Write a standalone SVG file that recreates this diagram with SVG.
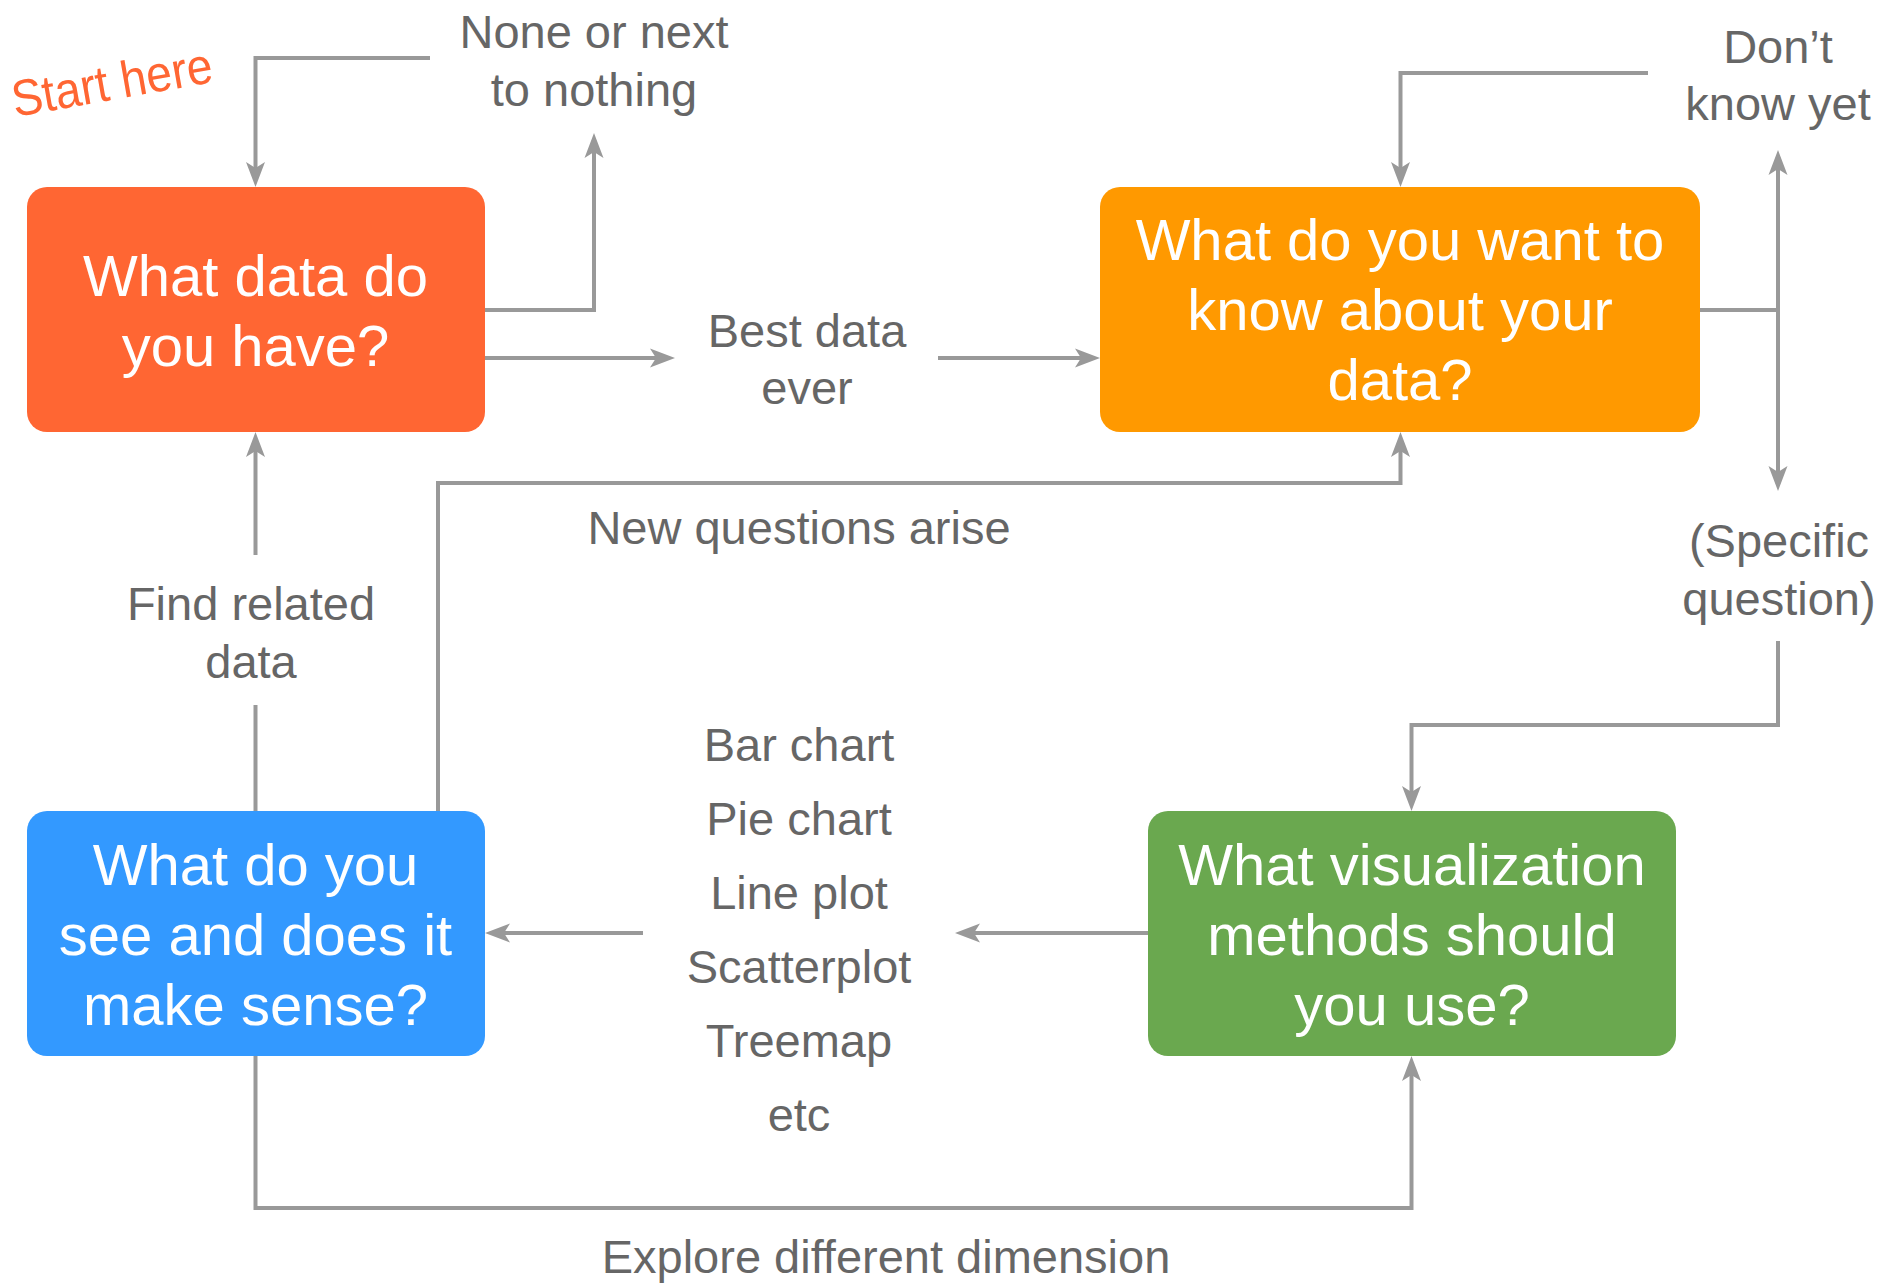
<svg xmlns="http://www.w3.org/2000/svg" width="1895" height="1285" viewBox="0 0 1895 1285">
  <style>
    .box-text { font-family: "Liberation Sans", Arial, sans-serif; font-size: 58px; fill: #ffffff; text-anchor: middle; }
    .label { font-family: "Liberation Sans", Arial, sans-serif; font-size: 47px; fill: #666666; text-anchor: middle; }
    .conn { fill: none; stroke: #999999; stroke-width: 4; }
    .start { font-family: "Liberation Sans", Arial, sans-serif; font-size: 51px; fill: #FF6633; }
  </style>
  <defs>
    <marker id="arrow" markerUnits="userSpaceOnUse" markerWidth="40" markerHeight="30" viewBox="-20 -15 40 30" refX="0" refY="0" orient="auto">
      <path d="M10,0 L-15,-9.5 L-9,0 L-15,9.5 Z" fill="#999999"/>
    </marker>
  </defs>

  <rect width="1895" height="1285" fill="#ffffff"/>

  <!-- connectors -->
  <g id="connectors">
    <path class="conn" d="M430,58 H255.5 V177" marker-end="url(#arrow)"/>
    <path class="conn" d="M485,310 H594 V143" marker-end="url(#arrow)"/>
    <path class="conn" d="M485,358 H665" marker-end="url(#arrow)"/>
    <path class="conn" d="M938,358 H1090" marker-end="url(#arrow)"/>
    <path class="conn" d="M1648,73 H1400.5 V177" marker-end="url(#arrow)"/>
    <path class="conn" d="M1700,310 H1778"/>
    <path class="conn" d="M1778,310 V160" marker-end="url(#arrow)"/>
    <path class="conn" d="M1778,310 V481" marker-end="url(#arrow)"/>
    <path class="conn" d="M1778,641 V725 H1411.5 V801" marker-end="url(#arrow)"/>
    <path class="conn" d="M438,811 V483 H1400.5 V442" marker-end="url(#arrow)"/>
    <path class="conn" d="M255.5,811 V705"/>
    <path class="conn" d="M255.5,555 V442" marker-end="url(#arrow)"/>
    <path class="conn" d="M1148,933 H965" marker-end="url(#arrow)"/>
    <path class="conn" d="M643,933 H495" marker-end="url(#arrow)"/>
    <path class="conn" d="M255.5,1056 V1208 H1411.5 V1066" marker-end="url(#arrow)"/>
  </g>

  <!-- nodes -->
  <g id="node-have">
    <rect x="27" y="187" width="458" height="245" rx="20" fill="#FF6633"/>
    <text class="box-text" x="255.5" y="296">What data do</text>
    <text class="box-text" x="255.5" y="366">you have?</text>
  </g>
  <g id="node-know">
    <rect x="1100" y="187" width="600" height="245" rx="20" fill="#FF9900"/>
    <text class="box-text" x="1400" y="260">What do you want to</text>
    <text class="box-text" x="1400" y="330">know about your</text>
    <text class="box-text" x="1400" y="400">data?</text>
  </g>
  <g id="node-see">
    <rect x="27" y="811" width="458" height="245" rx="20" fill="#3399FF"/>
    <text class="box-text" x="255.5" y="885">What do you</text>
    <text class="box-text" x="255.5" y="955">see and does it</text>
    <text class="box-text" x="255.5" y="1025">make sense?</text>
  </g>
  <g id="node-methods">
    <rect x="1148" y="811" width="528" height="245" rx="20" fill="#6AA84F"/>
    <text class="box-text" x="1412" y="885">What visualization</text>
    <text class="box-text" x="1412" y="955">methods should</text>
    <text class="box-text" x="1412" y="1025">you use?</text>
  </g>

  <!-- edge labels -->
  <g id="labels">
    <text class="label" x="594" y="48">None or next</text>
    <text class="label" x="594" y="106">to nothing</text>
    <text class="label" x="807" y="347">Best data</text>
    <text class="label" x="807" y="404">ever</text>
    <text class="label" x="1778" y="63">Don’t</text>
    <text class="label" x="1778" y="120">know yet</text>
    <text class="label" x="1779" y="557">(Specific</text>
    <text class="label" x="1779" y="615">question)</text>
    <text class="label" x="799" y="544">New questions arise</text>
    <text class="label" x="251" y="620">Find related</text>
    <text class="label" x="251" y="678">data</text>
    <text class="label" x="799" y="761">Bar chart</text>
    <text class="label" x="799" y="835">Pie chart</text>
    <text class="label" x="799" y="909">Line plot</text>
    <text class="label" x="799" y="983">Scatterplot</text>
    <text class="label" x="799" y="1057">Treemap</text>
    <text class="label" x="799" y="1131">etc</text>
    <text class="label" x="886" y="1273">Explore different dimension</text>
  </g>

  <text class="start" x="15" y="117" transform="rotate(-10 15 117)" textLength="203" lengthAdjust="spacingAndGlyphs">Start here</text>
</svg>
